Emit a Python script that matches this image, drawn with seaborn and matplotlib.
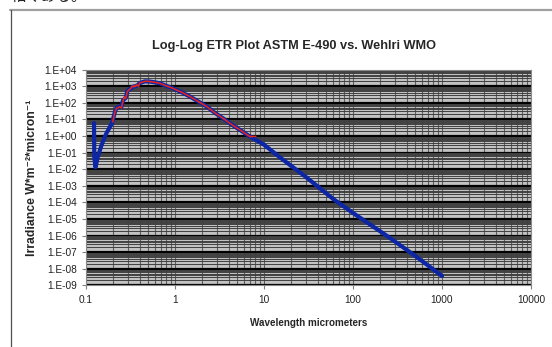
import matplotlib
matplotlib.use("Agg")
import matplotlib.pyplot as plt
import seaborn as sns
import numpy as np
from matplotlib.lines import Line2D
from matplotlib.ticker import LogLocator, FixedLocator, NullFormatter, FuncFormatter

# Wehrli WMO spectrum (blue)
wehrli_wl = [0.123, 0.124, 0.128, 0.135, 0.15, 0.17, 0.196, 0.21, 0.22, 0.24, 0.25,
             0.26, 0.28, 0.29, 0.30, 0.32, 0.34, 0.36, 0.38, 0.40, 0.43, 0.46,
             0.52, 0.60, 0.68, 0.80, 0.95, 1.2, 1.48, 1.8, 2.29, 2.8, 3.46, 4.3,
             5.39, 7.0, 8.0, 10, 15.2, 30, 60, 100, 245, 500, 1000]
wehrli_irr = [6, 0.05, 0.013, 0.05, 0.3, 1.5, 6, 25, 50, 60, 55,
              140, 200, 480, 580, 750, 950, 1000, 1150, 1500, 1750, 1950,
              1900, 1700, 1480, 1050, 740, 420, 234, 125, 58, 25, 11.7, 5,
              2.3, 0.9, 0.6, 0.3, 0.05, 3.2e-3, 1.6e-4, 2.3e-5, 9e-7, 6e-8, 3.7e-9]

# ASTM E-490 spectrum (red)
astm_wl = [0.20, 0.21, 0.22, 0.23, 0.24, 0.25, 0.26, 0.27, 0.28, 0.29, 0.30,
           0.31, 0.32, 0.33, 0.34, 0.35, 0.36, 0.37, 0.38, 0.39, 0.40, 0.43,
           0.46, 0.49, 0.52, 0.60, 0.68, 0.80, 0.95, 1.2, 1.48, 1.8, 2.29,
           2.8, 3.46, 4.3, 5.39, 7.0, 7.6, 8.1]
astm_irr = [7, 25, 48, 50, 58, 48, 120, 230, 180, 450, 560,
            650, 760, 1000, 900, 1080, 950, 1250, 1100, 1000, 1550, 1750,
            1950, 2000, 1900, 1700, 1480, 1050, 740, 420, 234, 125, 58,
            25, 11.7, 5, 2.3, 0.9, 0.95, 0.95]

y_exponents = list(range(-9, 5))
x_ticks = [0.1, 1, 10, 100, 1000, 10000]
x_tick_labels = ["0.1", "1", "10", "100", "1000", "10000"]

sns.set_style("ticks")
plt.rcParams["font.family"] = ["Liberation Sans", "DejaVu Sans", "Noto Sans CJK JP"]

fig = plt.figure(figsize=(5.52, 3.47), dpi=100)
ax = fig.add_axes([86 / 552, 1 - 285.4 / 347, 445 / 552, 215.8 / 347])
ax.set_facecolor("#c2c2c2")

sns.lineplot(x=wehrli_wl, y=wehrli_irr, ax=ax, color="#0d26a6", linewidth=3.0,
             sort=False, estimator=None, zorder=3)
sns.lineplot(x=astm_wl, y=astm_irr, ax=ax, color="#e8231b", linewidth=1.1,
             sort=False, estimator=None, zorder=4)

ax.set_xscale("log")
ax.set_yscale("log")
ax.set_xlim(0.1, 10000)
ax.set_ylim(1e-9, 1e4)

# gridlines like the Excel chart
ax.yaxis.set_major_locator(FixedLocator([10.0 ** e for e in y_exponents]))
ax.yaxis.set_minor_locator(LogLocator(base=10, subs=np.arange(2, 10), numticks=100))
ax.xaxis.set_major_locator(FixedLocator(x_ticks))
ax.xaxis.set_minor_locator(LogLocator(base=10, subs=np.arange(2, 10), numticks=100))
ax.yaxis.set_minor_formatter(NullFormatter())
ax.xaxis.set_minor_formatter(NullFormatter())
ax.grid(which="major", axis="y", color="#000000", linewidth=1.6, zorder=1)
ax.grid(which="minor", axis="y", color="#404040", linewidth=0.7, zorder=1)
ax.grid(which="both", axis="x", color="#5e5e5e", linewidth=0.8, zorder=1)
ax.set_axisbelow(True)

ax.yaxis.set_major_formatter(FuncFormatter(lambda v, p: "1.E%+03d" % round(np.log10(v))))
ax.set_xticklabels(x_tick_labels)
ax.tick_params(which="major", length=3, width=0.8, color="#808080", labelsize=7.3,
               labelcolor="#222222")
ax.tick_params(axis="x", pad=4)
ax.tick_params(which="minor", length=0)
for s in ax.spines.values():
    s.set_color("#8a8a8a")
    s.set_linewidth(0.8)

ax.set_xlabel("Wavelength micrometers", fontsize=7.1, fontweight="bold", labelpad=9)
ax.set_ylabel("Irradiance W*m\u207b\u00b2*micron\u207b\u00b9", fontsize=8.8,
              fontweight="bold")
ax.yaxis.set_label_coords(-0.108, 0.5)

fig.text(294 / 552, 1 - 46 / 347, "Log-Log ETR Plot ASTM E-490 vs. Wehlri WMO",
         ha="center", va="center", fontsize=9.2, fontweight="bold")

# chart-area border
fig.add_artist(Line2D([10 / 552, 1], [1 - 10 / 347] * 2, color="#a0a0a0", linewidth=1.6))
fig.add_artist(Line2D([10.5 / 552] * 2, [0, 1 - 10 / 347], color="#505050", linewidth=0.9))

# page text cut off above the chart
fig.text(11 / 552, 1 - 1 / 347, "相くある。", ha="left", va="baseline", fontsize=11,
         family=["Noto Sans CJK JP"], color="#222222")

fig.savefig("out.png", dpi=100)
